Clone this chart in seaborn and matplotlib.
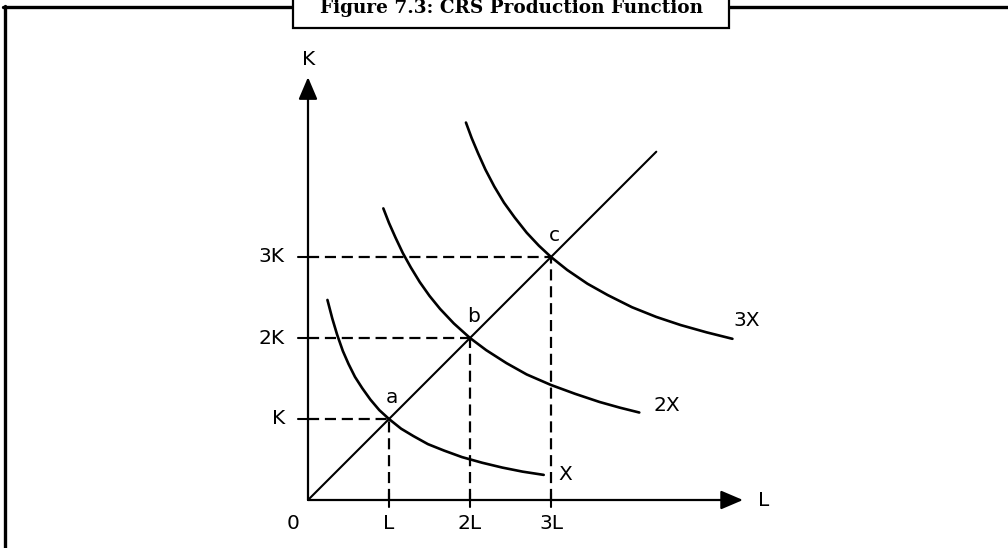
import matplotlib
matplotlib.use("Agg")
import matplotlib.pyplot as plt
import seaborn as sns
import pandas as pd
from matplotlib.lines import Line2D
from matplotlib.patches import Rectangle

# ---------------- data ----------------
title = "Figure 7.3: CRS Production Function"
x_tick_vals = [1, 2, 3]
x_tick_labels = ["L", "2L", "3L"]
y_tick_vals = [1, 2, 3]
y_tick_labels = ["K", "2K", "3K"]
point_labels = ["a", "b", "c"]
curve_names = ["X", "2X", "3X"]

# isoquant X
iso1_L = [0.24, 0.30, 0.36, 0.43, 0.50, 0.58, 0.67, 0.77, 0.88, 1.00,
          1.15, 1.30, 1.48, 1.68, 1.90, 2.15, 2.40, 2.65, 2.91]
iso1_K = [2.47, 2.24, 2.04, 1.84, 1.68, 1.52, 1.38, 1.24, 1.11, 1.00,
          0.88, 0.79, 0.69, 0.61, 0.53, 0.46, 0.40, 0.35, 0.31]
# isoquant 2X
iso2_L = [0.93, 1.00, 1.08, 1.17, 1.27, 1.38, 1.50, 1.63, 1.80, 2.00,
          2.20, 2.45, 2.70, 3.00, 3.30, 3.60, 3.85, 4.09]
iso2_K = [3.60, 3.42, 3.24, 3.05, 2.87, 2.69, 2.52, 2.36, 2.18, 2.00,
          1.85, 1.69, 1.55, 1.42, 1.31, 1.21, 1.14, 1.08]
# isoquant 3X
iso3_L = [1.95, 2.02, 2.10, 2.19, 2.30, 2.42, 2.55, 2.70, 2.85, 3.00,
          3.20, 3.45, 3.70, 4.00, 4.30, 4.60, 4.92, 5.24]
iso3_K = [4.66, 4.47, 4.28, 4.08, 3.87, 3.67, 3.49, 3.30, 3.14, 3.00,
          2.84, 2.67, 2.53, 2.38, 2.26, 2.16, 2.07, 1.99]
# expansion path (ray through origin)
ray_L = [0.0, 4.3]
ray_K = [0.0, 4.3]

# ---------------- figure ----------------
W, H = 1008, 548
sns.set_theme(style="white")
plt.rcParams["font.family"] = ["DejaVu Sans"]
plt.rcParams["text.color"] = "black"

fig = plt.figure(figsize=(W / 100, H / 100), dpi=100)
ax = fig.add_axes([0, 0, 1, 1])
ax.axis("off")

ox, oy, s = 308, 500, 81.0
ax.set_xlim(-ox / s, (W - ox) / s)
ax.set_ylim(-(H - oy) / s, oy / s)

lw_curve = 1.9
for Ls, Ks in [(iso1_L, iso1_K), (iso2_L, iso2_K), (iso3_L, iso3_K)]:
    df = pd.DataFrame({"L": Ls, "K": Ks})
    sns.lineplot(data=df, x="L", y="K", ax=ax, color="black", lw=lw_curve,
                 sort=False, estimator=None, legend=False)
sns.lineplot(data=pd.DataFrame({"L": ray_L, "K": ray_K}), x="L", y="K", ax=ax,
             color="black", lw=1.5, sort=False, estimator=None, legend=False)

# dashed guide lines
for v in x_tick_vals:
    ax.plot([0, v], [v, v], color="black", lw=1.6, ls=(0, (5, 2.6)),
            dash_capstyle="butt")
    ax.plot([v, v], [0, v], color="black", lw=1.6, ls=(0, (5, 2.6)),
            dash_capstyle="butt")

# axes with arrows
arrow_kw = dict(arrowstyle="-|>,head_length=0.75,head_width=0.32",
                lw=1.6, color="black", mutation_scale=18, shrinkA=0, shrinkB=0)
ax.annotate("", xy=(0, 5.22), xytext=(0, 0), arrowprops=arrow_kw)
ax.annotate("", xy=(5.37, 0), xytext=(0, 0), arrowprops=arrow_kw)

# ticks
for v in x_tick_vals:
    ax.plot([v, v], [-7 / s, 7 / s], color="black", lw=1.5)
for v in y_tick_vals:
    ax.plot([-10 / s, 0], [v, v], color="black", lw=1.5)

fs = 14.5
for v, t in zip(x_tick_vals, x_tick_labels):
    ax.text(v, -0.284, t, ha="center", va="center", fontsize=fs)
ax.text(-0.19, -0.284, "0", ha="center", va="center", fontsize=fs)
for v, t in zip(y_tick_vals, y_tick_labels):
    ax.text(-0.285, v, t, ha="right", va="center", fontsize=fs)
ax.text(0.01, 5.44, "K", ha="center", va="center", fontsize=fs)
ax.text(5.62, 0.0, "L", ha="center", va="center", fontsize=fs)

for v, t in zip(x_tick_vals, point_labels):
    ax.text(v + 0.04, v + 0.27, t, ha="center", va="center", fontsize=fs)

curve_label_pos = [(3.18, 0.31), (4.43, 1.17), (5.42, 2.22)]
for (x, y), t in zip(curve_label_pos, curve_names):
    ax.text(x, y, t, ha="center", va="center", fontsize=fs)

# outer frame (left + top) and title box
def px(x, y):
    return x / W, 1 - y / H

fig.add_artist(Line2D([px(4.5, 0)[0], px(4.5, 0)[0]], [px(0, 6)[1], px(0, H)[1]],
                      color="black", lw=2.4, transform=fig.transFigure))
fig.add_artist(Line2D([px(3, 0)[0], 1], [px(0, 6.5)[1], px(0, 6.5)[1]],
                      color="black", lw=2.4, transform=fig.transFigure))
x0, y0 = px(293, 28)
x1, y1 = px(729, -10)
fig.add_artist(Rectangle((x0, y0), x1 - x0, y1 - y0, transform=fig.transFigure,
                         facecolor="white", edgecolor="black", lw=1.6, zorder=5))
fig.text(px(511, 0)[0], px(0, 13)[1], title, ha="center", va="baseline",
         fontsize=13.3, fontweight="bold", family=["DejaVu Serif"], zorder=6,
         color="black")

fig.savefig("out.png", dpi=100, facecolor="white")
